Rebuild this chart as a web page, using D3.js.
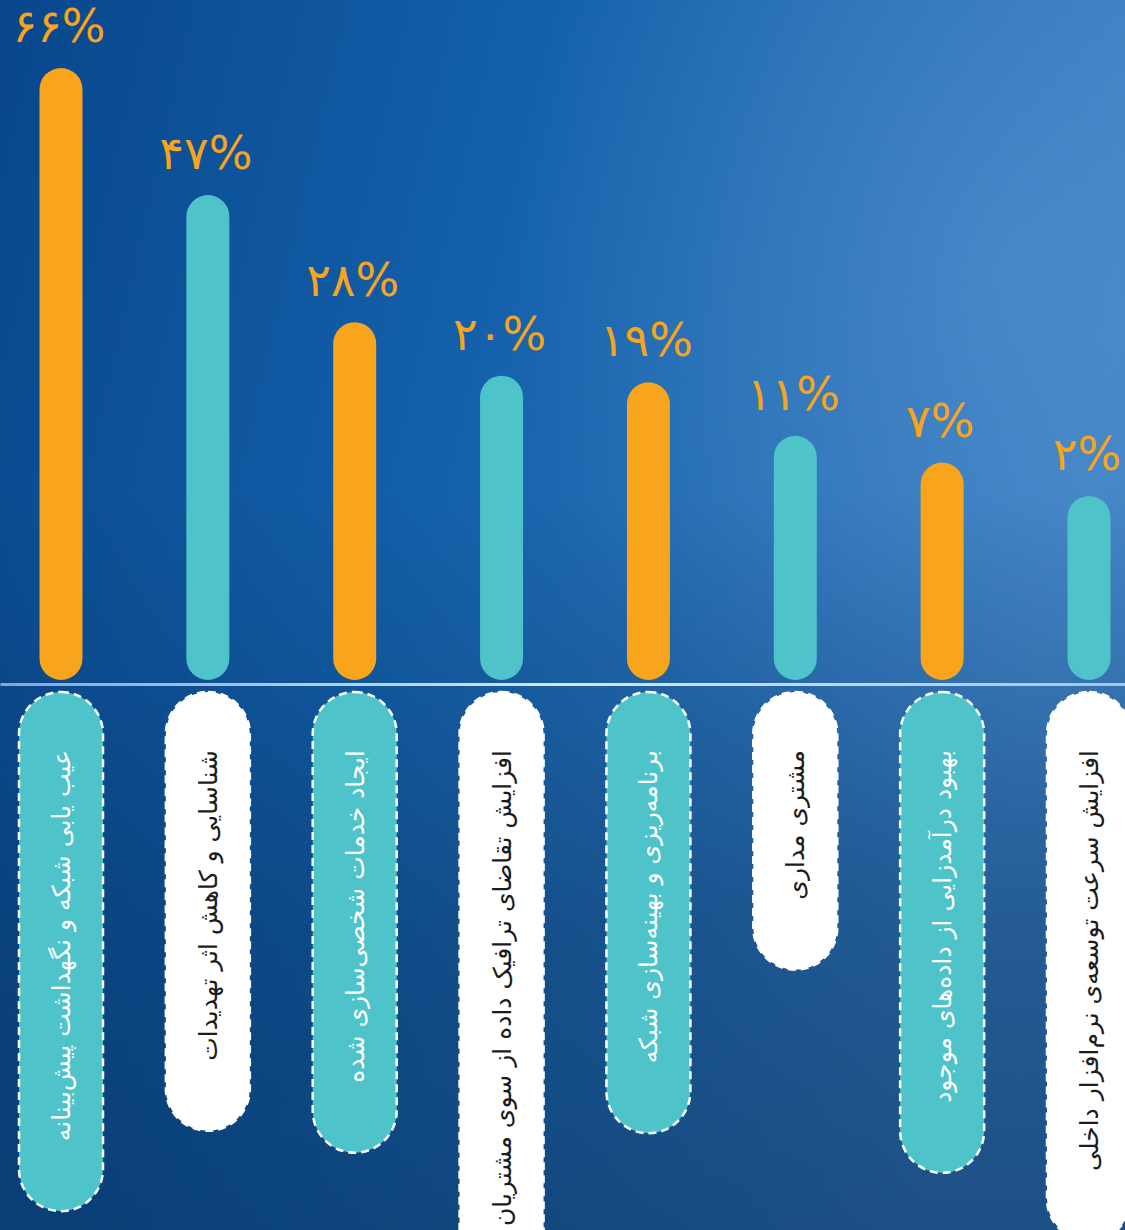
<!DOCTYPE html>
<html lang="fa">
<head>
<meta charset="utf-8">
<script src="https://cdn.jsdelivr.net/npm/d3@7"></script>
<style>
  html, body { margin: 0; padding: 0; background: #0b4f96; }
  svg { display: block; }
</style>
</head>
<body>
<svg id="chart" width="1125" height="1230"></svg>
<script>
// ---- data ----
const categories = [
  "عیب یابی شبکه و نگهداشت پیش‌بینانه",
  "شناسایی و کاهش اثر تهدیدات",
  "ایجاد خدمات شخصی‌سازی شده",
  "افزایش تقاضای ترافیک داده از سوی مشتریان",
  "برنامه‌ریزی و بهینه‌سازی شبکه",
  "مشتری مداری",
  "بهبود درآمدزایی از داده‌های موجود",
  "افزایش سرعت توسعه‌ی نرم‌افزار داخلی"
];
const values = [66, 47, 28, 20, 19, 11, 7, 2];
const valueLabels = ["۶۶%", "۴۷%", "۲۸%", "۲۰%", "۱۹%", "۱۱%", "۷%", "۲%"];

// ---- layout ----
const W = 1125, H = 1230;
const ORANGE = "#F8A41C", TEAL = "#4EC3CA";
const baseY = 680, axisY = 684, pillTop = 692, textStart = 750;
const barW = 43, pillW = 84;

const svg = d3.select("#chart");
const defs = svg.append("defs");

const bg = defs.append("linearGradient").attr("id", "bg")
  .attr("x1", "0").attr("y1", "0").attr("x2", "1").attr("y2", "0.25");
bg.append("stop").attr("offset", "0").attr("stop-color", "#08468c");
bg.append("stop").attr("offset", "0.45").attr("stop-color", "#1360aa");
bg.append("stop").attr("offset", "1").attr("stop-color", "#3d80c3");

const shade = defs.append("linearGradient").attr("id", "shade")
  .attr("x1", "0").attr("y1", "0").attr("x2", "0").attr("y2", "1");
shade.append("stop").attr("offset", "0.4").attr("stop-color", "#062f5c").attr("stop-opacity", 0);
shade.append("stop").attr("offset", "0.75").attr("stop-color", "#062f5c").attr("stop-opacity", 0.45);
shade.append("stop").attr("offset", "1").attr("stop-color", "#062f5c").attr("stop-opacity", 0.6);

const glow = defs.append("radialGradient").attr("id", "glow")
  .attr("cx", "0.9").attr("cy", "0.22").attr("r", "0.45");
glow.append("stop").attr("offset", "0").attr("stop-color", "#6fa8de").attr("stop-opacity", 0.3);
glow.append("stop").attr("offset", "1").attr("stop-color", "#6fa8de").attr("stop-opacity", 0);

const axisGrad = defs.append("linearGradient").attr("id", "axisGrad")
  .attr("gradientUnits", "userSpaceOnUse")
  .attr("x1", 0).attr("y1", 0).attr("x2", W).attr("y2", 0);
axisGrad.append("stop").attr("offset", "0").attr("stop-color", "#7fa9d6");
axisGrad.append("stop").attr("offset", "0.5").attr("stop-color", "#d6e8f8");
axisGrad.append("stop").attr("offset", "1").attr("stop-color", "#a4c6e8");

svg.append("rect").attr("width", W).attr("height", H).attr("fill", "url(#bg)");
svg.append("rect").attr("width", W).attr("height", H).attr("fill", "url(#glow)");
svg.append("rect").attr("width", W).attr("height", H).attr("fill", "url(#shade)");

// ---- scales ----
const x = d3.scalePoint().domain(categories).range([61, 1089]);
const y = d3.scaleLinear().domain([-25.5, 66]).range([baseY, 68]);

const colorOf = i => (i % 2 === 0 ? ORANGE : TEAL);

// ---- bars ----
svg.append("g").selectAll("rect")
  .data(categories)
  .join("rect")
  .attr("x", d => x(d) - barW / 2)
  .attr("y", (d, i) => y(values[i]))
  .attr("width", barW)
  .attr("height", (d, i) => baseY - y(values[i]))
  .attr("rx", barW / 2)
  .attr("fill", (d, i) => colorOf(i));

// ---- value labels ----
svg.append("g").selectAll("text")
  .data(categories)
  .join("text")
  .attr("x", d => x(d) - 2)
  .attr("y", (d, i) => y(values[i]) - 26)
  .attr("text-anchor", "middle")
  .attr("font-family", "DejaVu Sans, Noto Sans, sans-serif")
  .attr("font-size", 46)
  .attr("letter-spacing", 9)
  .attr("fill", ORANGE)
  .text((d, i) => valueLabels[i]);

// ---- axis line ----
const axis = svg.append("g").attr("transform", `translate(0,${axisY})`)
  .call(d3.axisBottom(d3.scaleLinear().domain([0, 1]).range([0, W])).ticks(0).tickSize(0).tickSizeOuter(0));
axis.select(".domain").attr("stroke", "url(#axisGrad)").attr("stroke-width", 3);
axis.selectAll("text").remove();

// ---- category pills ----
const pills = svg.append("g").selectAll("g")
  .data(categories)
  .join("g")
  .attr("transform", d => `translate(${x(d)},0)`);

pills.each(function (d, i) {
  const g = d3.select(this);
  const teal = i % 2 === 0;
  const t = g.append("text")
    .attr("transform", `translate(0,${textStart}) rotate(-90)`)
    .attr("direction", "rtl")
    .attr("text-anchor", "start")
    .attr("dy", "0.36em")
    .attr("font-family", "DejaVu Sans, Noto Sans, sans-serif")
    .attr("font-size", 25)
    .attr("letter-spacing", 1.2)
    .attr("fill", teal ? "#ffffff" : "#1c1c1c")
    .text(d);
  const len = t.node().getComputedTextLength();
  const bottom = textStart + len + 70;
  g.insert("rect", "text")
    .attr("x", -pillW / 2)
    .attr("y", pillTop)
    .attr("width", pillW)
    .attr("height", bottom - pillTop)
    .attr("rx", pillW / 2)
    .attr("fill", teal ? TEAL : "#ffffff")
    .attr("stroke", "#ffffff")
    .attr("stroke-width", 2.5)
    .attr("stroke-dasharray", "8 5");
});
</script>
</body>
</html>
